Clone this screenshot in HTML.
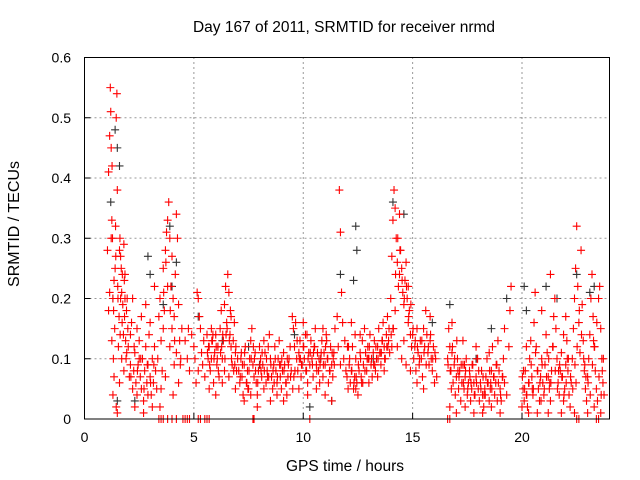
<!DOCTYPE html>
<html><head><meta charset="utf-8"><style>
body{margin:0;background:#fff;}
svg{display:block;font-family:"Liberation Sans",sans-serif;}
</style></head><body>
<svg id="chart" width="640" height="480">
<text x="344" y="32" font-size="15.5" text-anchor="middle" fill="#000">Day 167 of 2011, SRMTID for receiver nrmd</text>
<text x="345" y="471" font-size="15.5" text-anchor="middle" fill="#000">GPS time / hours</text>
<text transform="translate(19,224) rotate(-90)" font-size="16" text-anchor="middle" fill="#000">SRMTID / TECUs</text>
<g id="grid"></g>
<g id="ticks"></g>
<g id="black"></g>
<g id="red"></g>
<rect x="84.5" y="57.5" width="525" height="361.5" fill="none" stroke="#000" stroke-width="1"/>
</svg>
<script>
const xTicks=[0,5,10,15,20];
const yTicks=[0,0.1,0.2,0.3,0.4,0.5,0.6];
const yTickLabels=["0","0.1","0.2","0.3","0.4","0.5","0.6"];
const redT=[1.05,1.1,1.15,1.18,1.2,1.22,1.25,1.28,1.3,1.32,1.35,1.38,1.4,1.42,1.45,1.48,1.5,1.52,1.55,1.58,1.6,1.62,1.65,1.68,1.7,1.72,1.75,1.78,1.8,1.82,1.85,1.88,1.9,1.92,1.95,1.98,1.3,1.45,1.5,1.6,1.7,1.8,1.25,1.15,1.1,1.35,1.65,1.85,
2.0,2.05,2.1,2.15,2.2,2.25,2.3,2.35,2.4,2.45,2.5,2.55,2.6,2.65,2.7,2.75,2.8,2.85,2.9,2.95,3.0,3.05,3.1,3.15,3.2,3.25,3.3,2.2,2.4,2.6,2.8,3.0,3.2,2.3,2.7,3.1,2.1,2.5,2.9,
3.35,3.4,3.45,3.5,3.55,3.6,3.65,3.7,3.75,3.8,3.85,3.9,3.95,4.0,4.05,4.1,4.15,4.2,4.25,4.3,4.35,4.4,4.45,3.5,3.7,3.9,4.1,4.3,3.6,3.8,4.0,4.2,3.45,4.05,
4.6,4.7,4.8,4.9,5.0,5.1,5.2,5.25,5.3,5.35,5.4,5.45,5.5,4.75,5.05,5.15,5.2,
5.6,5.65,5.7,5.75,5.8,5.85,5.9,5.95,6.0,6.05,6.1,6.15,6.2,6.25,6.3,6.35,6.4,6.45,6.5,6.55,6.6,6.65,6.7,6.75,6.8,6.85,6.9,6.95,7.0,5.7,6.0,6.3,6.6,6.9,5.8,6.1,6.4,6.7,
7.05,7.1,7.15,7.2,7.25,7.3,7.35,7.4,7.45,7.5,7.55,7.6,7.65,7.7,7.75,7.8,7.85,7.9,7.95,8.0,8.05,8.1,8.15,8.2,8.25,8.3,8.35,8.4,8.45,8.5,8.55,8.6,8.65,8.7,8.75,8.8,8.85,8.9,8.95,9.0,9.05,9.1,9.15,9.2,9.25,9.3,9.35,9.4,9.45,7.3,7.9,8.5,9.1,8.2,8.8,7.6,
9.5,9.55,9.6,9.65,9.7,9.75,9.8,9.85,9.9,9.95,10.0,10.05,10.1,10.15,10.2,10.25,10.3,10.35,10.4,10.45,10.5,10.55,10.6,10.65,10.7,10.75,10.8,10.85,10.9,10.95,11.0,11.05,11.1,11.15,11.2,11.25,11.3,11.35,11.4,11.45,9.8,10.2,10.6,11.0,11.3,10.0,10.9,
11.55,11.6,11.65,11.7,11.75,11.8,11.85,11.9,11.95,11.7,
12.0,12.05,12.1,12.15,12.2,12.25,12.3,12.35,12.4,12.45,12.5,12.55,12.6,12.65,12.7,12.75,12.8,12.85,12.9,12.95,13.0,13.05,13.1,13.15,13.2,13.25,13.3,13.35,13.4,13.45,13.5,13.55,13.6,13.65,13.7,13.75,13.8,13.85,13.9,13.95,12.2,12.6,13.0,13.4,13.7,12.4,
14.0,14.05,14.1,14.15,14.2,14.25,14.3,14.35,14.4,14.45,14.5,14.55,14.6,14.65,14.7,14.75,14.8,14.85,14.9,14.95,14.1,14.3,14.5,14.7,14.2,14.6,14.4,14.8,14.05,14.9,
15.0,15.05,15.1,15.15,15.2,15.25,15.3,15.35,15.4,15.45,15.5,15.55,15.6,15.65,15.7,15.75,15.8,15.85,15.9,15.95,16.0,16.05,16.1,15.2,15.5,15.8,
16.6,16.65,16.7,16.75,16.8,16.85,16.9,16.95,17.0,17.05,17.1,17.15,17.2,17.25,17.3,17.35,17.4,17.45,17.5,17.55,17.6,17.65,17.7,17.75,17.8,17.85,17.9,17.95,18.0,18.05,18.1,18.15,18.2,18.25,18.3,18.35,18.4,18.45,18.5,18.55,18.6,18.65,18.7,18.75,18.8,18.85,18.9,18.95,19.0,19.05,19.1,19.15,19.2,19.3,19.4,19.45,19.5,16.7,17.0,17.4,17.8,18.2,18.6,19.0,17.3,17.9,18.5,19.2,16.8,
20.0,20.05,20.1,20.15,20.2,20.25,20.3,20.35,20.4,20.45,20.5,20.55,20.6,20.65,20.7,20.75,20.8,20.85,20.9,20.95,21.0,21.05,21.1,21.15,21.2,21.25,21.3,21.35,21.4,21.45,21.5,21.55,21.6,21.65,21.7,21.75,21.8,21.85,21.9,21.95,22.0,22.05,22.1,22.15,22.2,22.25,22.3,22.35,22.4,22.45,22.5,22.55,22.6,22.65,22.7,22.75,22.8,22.85,22.9,22.95,23.0,23.05,23.1,23.15,23.2,23.25,23.3,23.35,23.4,23.45,23.5,23.55,23.6,23.65,23.7,23.75,20.3,20.7,21.2,21.8,22.4,23.0,23.6,20.9,21.3,22.0,21.9,20.2,23.3,
3.4,3.5,3.6,3.8,4.0,4.2,4.5,4.6,4.7,4.8,5.2,5.3,5.5,5.6,5.7,7.7,7.75,10.3,16.6,16.7,22.5,22.6,23.4,23.5];
const redV=[.28,.41,.47,.55,.51,.45,.33,.3,.2,.1,.07,.15,.25,.32,.5,.54,.38,.22,.12,.17,.28,.3,.27,.25,.21,.16,.19,.14,.29,.23,.2,.13,.1,.18,.2,.15,.04,.02,.01,.06,.1,.08,.13,.21,.18,.23,.2,.24,
.12,.07,.09,.16,.05,.08,.11,.06,.04,.09,.13,.07,.05,.1,.03,.08,.12,.06,.09,.14,.07,.04,.1,.06,.12,.08,.05,.2,.15,.17,.19,.16,.22,.02,.01,.02,.14,.1,.04,
.1,.17,.2,.13,.08,.15,.18,.28,.31,.33,.36,.3,.22,.27,.2,.17,.24,.34,.3,.19,.13,.1,.15,.05,.07,.12,.09,.06,.25,.22,.15,.11,.02,.04,
.13,.1,.08,.14,.12,.06,.2,.17,.15,.11,.09,.13,.07,.15,.1,.21,.08,
.14,.1,.12,.08,.15,.13,.06,.11,.14,.09,.12,.07,.15,.18,.1,.13,.19,.22,.16,.24,.21,.14,.12,.09,.13,.16,.11,.08,.1,.05,.04,.06,.07,.05,.1,.12,.08,.17,
.08,.06,.1,.07,.04,.09,.12,.06,.08,.05,.1,.13,.15,.09,.07,.11,.06,.04,.08,.12,.1,.07,.09,.13,.11,.06,.08,.12,.14,.1,.07,.05,.09,.12,.08,.06,.1,.13,.07,.05,.08,.11,.09,.06,.04,.07,.1,.12,.08,.03,.02,.03,.03,.05,.04,.04,
.17,.15,.12,.16,.1,.08,.11,.13,.07,.09,.12,.1,.14,.08,.06,.11,.09,.13,.1,.07,.12,.15,.09,.11,.08,.06,.1,.13,.07,.11,.09,.14,.1,.06,.08,.12,.09,.07,.11,.15,.05,.04,.05,.04,.03,.16,.15,
.17,.12,.38,.31,.21,.16,.1,.13,.08,.09,
.07,.05,.09,.06,.08,.12,.05,.07,.1,.06,.04,.08,.11,.07,.13,.09,.15,.11,.08,.12,.1,.14,.09,.07,.11,.13,.08,.1,.12,.15,.11,.09,.13,.16,.12,.1,.14,.17,.13,.11,.16,.14,.06,.07,.08,.05,
.2,.27,.33,.38,.35,.3,.26,.22,.24,.28,.25,.21,.19,.23,.26,.2,.16,.18,.14,.12,.15,.12,.1,.09,.18,.13,.34,.22,.12,.08,
.14,.1,.12,.08,.06,.11,.09,.13,.1,.07,.15,.12,.18,.14,.11,.09,.13,.1,.08,.12,.06,.1,.07,.15,.05,.17,
.1,.15,.12,.08,.11,.06,.09,.04,.07,.1,.05,.08,.03,.06,.09,.05,.07,.1,.04,.06,.08,.03,.05,.09,.06,.04,.07,.1,.05,.03,.06,.08,.04,.02,.05,.07,.1,.06,.03,.05,.08,.12,.07,.04,.06,.09,.13,.08,.05,.03,.07,.1,.06,.04,.12,.18,.22,.02,.01,.02,.01,.01,.02,.01,.13,.12,.11,.15,.16,
.02,.05,.03,.08,.04,.02,.06,.1,.13,.07,.04,.16,.21,.12,.08,.05,.03,.07,.1,.06,.04,.09,.14,.11,.07,.05,.03,.08,.12,.17,.2,.15,.1,.06,.04,.08,.11,.07,.03,.05,.09,.13,.08,.04,.02,.06,.1,.15,.2,.25,.32,.22,.16,.11,.28,.19,.13,.08,.05,.03,.07,.1,.14,.2,.24,.17,.12,.08,.05,.03,.2,.22,.15,.1,.06,.04,.01,.01,.01,.01,.01,.01,.01,.18,.24,.17,.14,.12,.02,
0,0,0,0,0,0,0,0,0,0,0,0,0,0,0,0,0,0,0,0,0,0,0,0];
const redT2=[1.22,1.26,1.33,1.43,1.53,1.63,1.73,1.83,1.93,2.12,2.27,2.42,2.57,2.72,2.87,3.02,3.17,3.62,3.72,3.92,4.12,4.38,
5.62,5.72,5.82,5.92,6.02,6.12,6.22,6.32,6.42,6.52,6.62,6.72,6.82,6.92,5.67,5.87,6.07,6.27,6.47,6.67,6.87,
7.12,7.22,7.32,7.42,7.52,7.62,7.72,7.82,7.92,8.02,8.12,8.22,8.32,8.42,8.52,8.62,8.72,8.82,8.92,9.02,9.12,9.22,9.32,9.42,7.17,7.47,7.77,8.07,8.37,8.67,8.97,9.27,
9.52,9.62,9.72,9.82,9.92,10.02,10.12,10.22,10.32,10.42,10.52,10.62,10.72,10.82,10.92,11.02,11.12,11.22,11.32,11.42,9.57,9.87,10.17,10.47,10.77,11.07,11.37,
12.02,12.12,12.22,12.32,12.42,12.52,12.62,12.72,12.82,12.92,13.02,13.12,13.22,13.32,13.42,13.52,13.62,13.72,13.82,13.92,12.07,12.37,12.67,12.97,13.27,13.57,13.87,
14.02,14.12,14.22,14.32,14.42,14.52,14.62,14.72,14.82,14.92,15.02,15.12,15.22,15.32,15.42,15.52,15.62,15.72,15.82,15.92,16.02,
16.62,16.72,16.82,16.92,17.02,17.12,17.22,17.32,17.42,17.52,17.62,17.72,17.82,17.92,18.02,18.12,18.22,18.32,18.42,18.52,18.62,18.72,18.82,18.92,19.02,19.12,16.77,17.07,17.37,17.67,17.97,18.27,18.57,18.87,
20.02,20.12,20.22,20.32,20.42,20.52,20.62,20.72,20.82,20.92,21.02,21.12,21.22,21.32,21.42,21.52,21.62,21.72,21.82,21.92,22.02,22.12,22.22,22.32,22.42,22.52,22.62,22.72,22.82,22.92,23.02,23.12,23.22,23.32,23.42,23.52,23.62,23.72,20.07,20.47,20.87,21.27,21.67,22.07,22.47,22.87,23.27,23.67];
const redV2=[.3,.42,.18,.27,.2,.14,.24,.17,.11,.07,.12,.08,.1,.05,.09,.06,.09,.21,.26,.18,.13,.09,
.11,.09,.13,.1,.12,.08,.11,.14,.1,.15,.13,.1,.08,.12,.12,.14,.1,.12,.14,.18,.09,
.07,.09,.11,.06,.08,.1,.12,.08,.06,.09,.11,.08,.1,.07,.09,.08,.1,.07,.09,.1,.08,.06,.09,.07,.11,.05,.1,.08,.07,.06,.09,.1,.05,.08,
.13,.1,.09,.12,.08,.1,.11,.09,.12,.08,.1,.11,.09,.12,.1,.08,.11,.09,.07,.1,.14,.11,.09,.13,.1,.12,.1,
.08,.06,.07,.09,.1,.06,.08,.1,.12,.1,.09,.12,.1,.11,.13,.1,.12,.15,.12,.14,.06,.1,.09,.11,.12,.14,.15,
.24,.3,.28,.23,.2,.22,.17,.19,.15,.13,.12,.1,.13,.11,.09,.12,.14,.1,.11,.09,.08,
.12,.1,.13,.07,.09,.06,.08,.05,.07,.09,.04,.06,.08,.05,.07,.04,.06,.08,.05,.07,.09,.06,.04,.07,.05,.08,.09,.06,.1,.04,.06,.03,.07,.05,
.04,.06,.09,.05,.11,.08,.06,.09,.05,.07,.1,.06,.12,.08,.05,.09,.07,.04,.06,.1,.07,.05,.09,.12,.18,.14,.1,.07,.06,.04,.09,.12,.16,.07,.04,.1,.08,.05,.03,.06,.08,.1,.06,.09,.13,.08,.1,.06];
const blackT=[1.2,1.4,1.5,1.6,1.3,1.5,2.3,2.9,3.0,3.6,3.9,4.0,4.2,5.2,6.3,8.0,9.6,10.3,11.3,11.7,12.4,12.45,12.3,14.1,14.6,15.9,16.7,18.6,19.3,20.1,20.2,21.1,21.6,22.5,23.3,23.1,17.9,13.2,10.8,7.5];
const blackV=[.36,.48,.45,.42,.2,.03,.03,.27,.24,.19,.32,.22,.26,.17,.13,.09,.14,.02,.03,.24,.32,.28,.23,.36,.34,.16,.19,.15,.2,.22,.18,.22,.2,.24,.22,.21,.1,.1,.1,.12];

const NS="http://www.w3.org/2000/svg";
const X0=84.5,X1=609.5,Y0=419,Y1=57.5,XMAX=24,YMAX=0.6;
function xs(t){return X0+(X1-X0)*t/XMAX;}
function ys(v){return Y0-(Y0-Y1)*v/YMAX;}
function mk(tag,attrs,parent){const e=document.createElementNS(NS,tag);for(const k in attrs)e.setAttribute(k,attrs[k]);parent.appendChild(e);return e;}
const grid=document.getElementById('grid'),ticks=document.getElementById('ticks');
xTicks.forEach(t=>{
  const x=xs(t);
  if(t>0){const g=mk('line',{x1:x,x2:x,y1:Y0,y2:Y1,stroke:'#999','stroke-dasharray':'2,3','stroke-width':1},grid);
  
  }
  const tk=mk('line',{x1:x,x2:x,y1:Y0,y2:Y0-6,stroke:'#000'},ticks);
  
  
  const lb=mk('text',{x:x,y:442,'font-size':14,'text-anchor':'middle'},ticks);lb.textContent=String(t);
  
  
});
yTicks.forEach((v,i)=>{
  const y=ys(v);
  if(v>0&&v<YMAX){const g=mk('line',{x1:X0,x2:X1,y1:y,y2:y,stroke:'#999','stroke-dasharray':'2,3','stroke-width':1},grid);
  
  }
  const tk=mk('line',{x1:X0,x2:X0+6,y1:y,y2:y,stroke:'#000'},ticks);
  
  
  const lb=mk('text',{x:71,y:y+5,'font-size':14,'text-anchor':'end'},ticks);lb.textContent=yTickLabels[i];
  
  
});
function plus(g,t,v,col){
  const x=xs(t),y=ys(v);
  return mk('path',{d:`M${x-4},${y}H${x+4}M${x},${y-4}V${y+4}`,stroke:col,'stroke-width':1.1,fill:'none'},g);
}
const bg=document.getElementById('black');
blackT.forEach((t,i)=>{const p=plus(bg,t,blackV[i],'#333');
  
  });
const rg=document.getElementById('red');
redT.forEach((t,i)=>{const p=plus(rg,t,redV[i],'#f00');
  
  });
redT2.forEach((t,i)=>{const p=plus(rg,t,redV2[i],'#f00');
  
  });
</script>
</body></html>
